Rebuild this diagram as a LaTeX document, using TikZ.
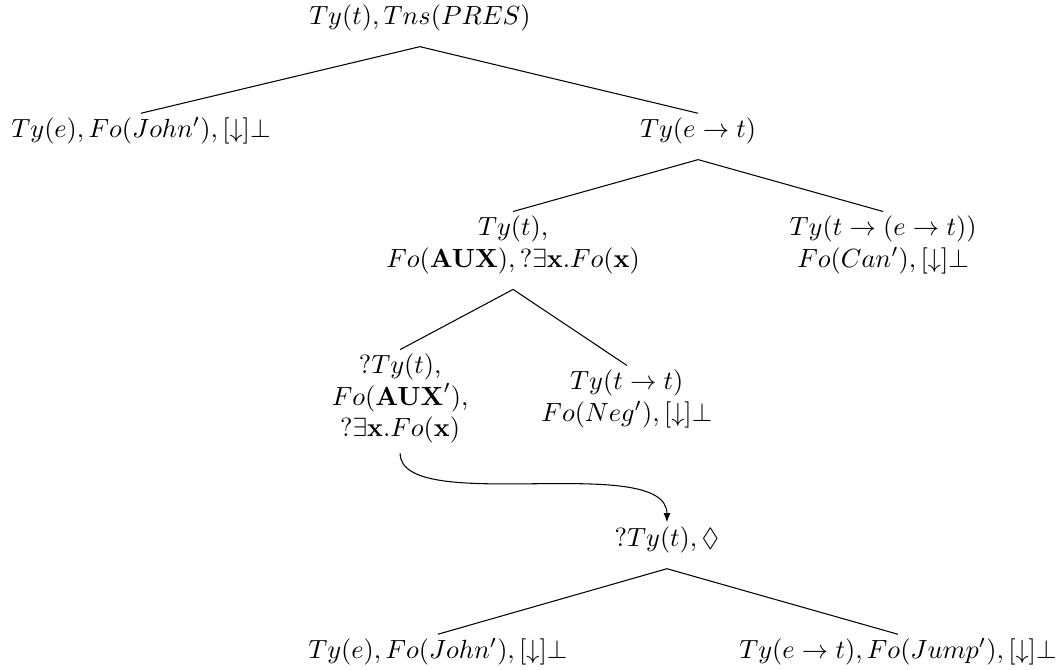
\documentclass[tikz,border=0pt]{standalone}
\usepackage{amsmath}
\usepackage{amssymb}
\usetikzlibrary{arrows.meta}

\begin{document}
\begin{tikzpicture}[>={Latex[length=3.5pt,width=2.6pt]},line join=bevel,every node/.style={inner sep=1.5bp,align=center}]
\useasboundingbox (0bp,0bp) rectangle (402.0bp,253.8bp);
%%
\node (node_0) at (159.1bp,247.0bp) [draw,draw=none] {$Ty(t), Tns(PRES)$};
  \node (node_1) at (53.4bp,204.2bp) [draw,draw=none] {$Ty(e), Fo(John'), [\downarrow]\bot$};
  \node (node_2) at (264.5bp,204.2bp) [draw,draw=none] {$Ty(e \rightarrow t)$};
  \node (node_3) at (194.4bp,161.0bp) [draw,draw=none] {$Ty(t)$,\\ $Fo(\mathbf{AUX}), ?\exists\mathbf{x}.Fo(\mathbf{x})$};
  \node (node_4) at (334.6bp,161.0bp) [draw,draw=none] {$Ty(t \rightarrow (e \rightarrow t))$\\ $Fo(Can'), [\downarrow]\bot$};
  \node (node_5) at (151.6bp,102.7bp) [draw,draw=none] {$?Ty(t)$,\\ $Fo(\mathbf{AUX}')$,\\ $?\exists\mathbf{x}.Fo(\mathbf{x})$};
  \node (node_6) at (237.5bp,102.7bp) [draw,draw=none] {$Ty(t \rightarrow t)$\\ $Fo(Neg'), [\downarrow]\bot$};
  \node (node_7) at (252.7bp,49.2bp) [draw,draw=none] {$?Ty(t), \Diamond$};
  \node (node_8) at (165.9bp,6.8bp) [draw,draw=none] {$Ty(e), Fo(John'), [\downarrow]\bot$};
  \node (node_9) at (340.2bp,6.8bp) [draw,draw=none] {$Ty(e \rightarrow t), Fo(Jump'), [\downarrow]\bot$};
  \draw [black] ([yshift=-4.2bp]node_0.south) -- (node_1.north);
  \draw [black] ([yshift=-4.2bp]node_0.south) -- (node_2.north);
  \draw [black] ([yshift=-4.2bp]node_2.south) -- (node_3.north);
  \draw [black] ([yshift=-4.2bp]node_2.south) -- (node_4.north);
  \draw [black] ([yshift=-4.2bp]node_3.south) -- (node_5.north);
  \draw [black] ([yshift=-4.2bp]node_3.south) -- (node_6.north);
  \draw [black,->] ([yshift=-2bp]node_5.south) ..controls +(0bp,-24bp) and +(0bp,27bp)  .. (node_7.north);
  \draw [black] ([yshift=-4.2bp]node_7.south) -- (node_8.north);
  \draw [black] ([yshift=-4.2bp]node_7.south) -- (node_9.north);
%
\end{tikzpicture}
\end{document}
